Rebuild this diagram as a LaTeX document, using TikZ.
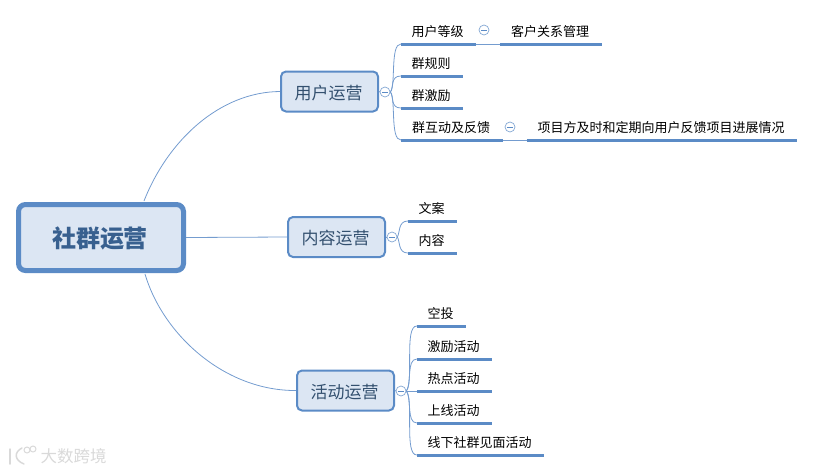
\documentclass[tikz,border=0pt]{standalone}
\usepackage{fontspec}
\setmainfont{Noto Sans CJK SC}
\definecolor{mapline}{HTML}{5B8BC6}
\definecolor{mapfill}{HTML}{DCE6F3}
\definecolor{maptext}{HTML}{33506F}
\definecolor{roottext}{HTML}{38608F}
\tikzset{
	nudge/.style={execute at begin node=\hspace*{-2pt}},
	root/.style={nudge, draw=mapline, fill=mapfill, line width=5pt, rounded corners=7pt, minimum width=165pt, minimum height=66pt, inner sep=0pt, text height=22pt, text depth=3pt, text=roottext, font=\fontsize{24}{24}\selectfont\bfseries},
	topic/.style={nudge, draw=mapline, fill=mapfill, line width=2pt, rounded corners=5pt, minimum width=97pt, minimum height=40pt, inner sep=0pt, text height=17pt, text depth=2pt, text=maptext, font=\fontsize{17}{17}\selectfont},
	leaf/.style={nudge, anchor=south, minimum height=25pt, inner sep=0pt, text=black, font=\fontsize{13}{13}\selectfont},
	fold/.style={draw=mapline!75, fill=white, circle, line width=0.7pt, minimum size=10pt, inner sep=0pt, path picture={\draw[mapline, line width=0.7pt] ([xshift=-3pt]path picture bounding box.center) -- ([xshift=3pt]path picture bounding box.center);}},
	link/.style={draw=mapline!85, line width=0.8pt},
	bar/.style={draw=mapline, line width=3pt},
}
\begin{document}
\begin{tikzpicture}[x=1pt, y=-1pt]
	\useasboundingbox (0,0) rectangle (814,472);
	\node[root] (R) at (101,237.5) {社群运营};
	\node[topic] (A) at (329.5,91.5) {用户运营};
	\node[topic] (B) at (336.5,237) {内容运营};
	\node[topic] (C) at (345.5,390.5) {活动运营};

	\node[fold] (FA) at (385,92) {};
	\node[fold] (FB) at (392,237) {};
	\node[fold] (FC) at (401,391) {};
	\node[fold] (FD) at (484,30) {};
	\node[fold] (FE) at (510,127) {};

	\node[leaf, minimum width=75pt] (A1) at (438.5,44) {用户等级};
	\node[leaf, minimum width=102pt] (A11) at (551,44) {客户关系管理};
	\node[leaf, minimum width=62pt] (A2) at (432,76) {群规则};
	\node[leaf, minimum width=62pt] (A3) at (432,108) {群激励};
	\node[leaf, minimum width=102pt] (A4) at (452,140) {群互动及反馈};
	\node[leaf, minimum width=270pt] (A41) at (662,140) {项目方及时和定期向用户反馈项目进展情况};

	\node[leaf, minimum width=49pt] (B1) at (432.5,221) {文案};
	\node[leaf, minimum width=49pt] (B2) at (432.5,253) {内容};

	\node[leaf, minimum width=49pt] (C1) at (441.5,326) {空投};
	\node[leaf, minimum width=75pt] (C2) at (454.5,359) {激励活动};
	\node[leaf, minimum width=75pt] (C3) at (454.5,391) {热点活动};
	\node[leaf, minimum width=75pt] (C4) at (454.5,423) {上线活动};
	\node[leaf, minimum width=127pt] (C5) at (480.5,455) {线下社群见面活动};

	\path [link] (R.north east) ++(-42,-1) coordinate (RT) .. controls (168,140) and (220,92) .. (A.west);
	\path [link] (R.east) -- (B.west);
	\path [link] (R.south east) ++(-41,1) coordinate (RB) .. controls (163,335) and (225,391) .. (C.west);

	\path [link] (A.east) -- (FA.west);
	\path [link] (B.east) -- (FB.west);
	\path [link] (C.east) -- (FC.west);

	\path [link] (FA.east) .. controls (396,86) and (390,44) .. (A1.south west);
	\path [link] (FA.east) .. controls (394,88) and (390,76) .. (A2.south west);
	\path [link] (FA.east) .. controls (394,96) and (390,108) .. (A3.south west);
	\path [link] (FA.east) .. controls (396,98) and (390,140) .. (A4.south west);

	\path [link] (FB.east) .. controls (400,233) and (398,221) .. (B1.south west);
	\path [link] (FB.east) .. controls (400,241) and (398,253) .. (B2.south west);

	\path [link] (FC.east) .. controls (414,380) and (404,326) .. (C1.south west);
	\path [link] (FC.east) .. controls (412,385) and (406,359) .. (C2.south west);
	\path [link] (FC.east) -- (C3.south west);
	\path [link] (FC.east) .. controls (412,397) and (406,423) .. (C4.south west);
	\path [link] (FC.east) .. controls (414,402) and (404,455) .. (C5.south west);

	\path [link] (A1.south east) -- (A11.south west);
	\path [link] (A4.south east) -- (A41.south west);

	\path [bar] (A1.south west) -- (A1.south east);
	\path [bar] (A11.south west) -- (A11.south east);
	\path [bar] (A2.south west) -- (A2.south east);
	\path [bar] (A3.south west) -- (A3.south east);
	\path [bar] (A4.south west) -- (A4.south east);
	\path [bar] (A41.south west) -- (A41.south east);
	\path [bar] (B1.south west) -- (B1.south east);
	\path [bar] (B2.south west) -- (B2.south east);
	\path [bar] (C1.south west) -- (C1.south east);
	\path [bar] (C2.south west) -- (C2.south east);
	\path [bar] (C3.south west) -- (C3.south east);
	\path [bar] (C4.south west) -- (C4.south east);
	\path [bar] (C5.south west) -- (C5.south east);

	\node[text=gray!30, font=\fontsize{16.5}{16.5}\selectfont] (W) at (73.5,456) {大数跨境};
	\draw[gray!30, line width=1.5pt, line cap=round] (10,449) -- (10,464);
	\draw[gray!30, line width=1.5pt, line cap=round] (22,448) .. controls (14,452) and (14,460) .. (24,464);
	\draw[gray!30, line width=1pt] (27,450) circle (3pt);
	\draw[gray!30, line width=1pt] (33,449) circle (3pt);
\end{tikzpicture}
\end{document}
